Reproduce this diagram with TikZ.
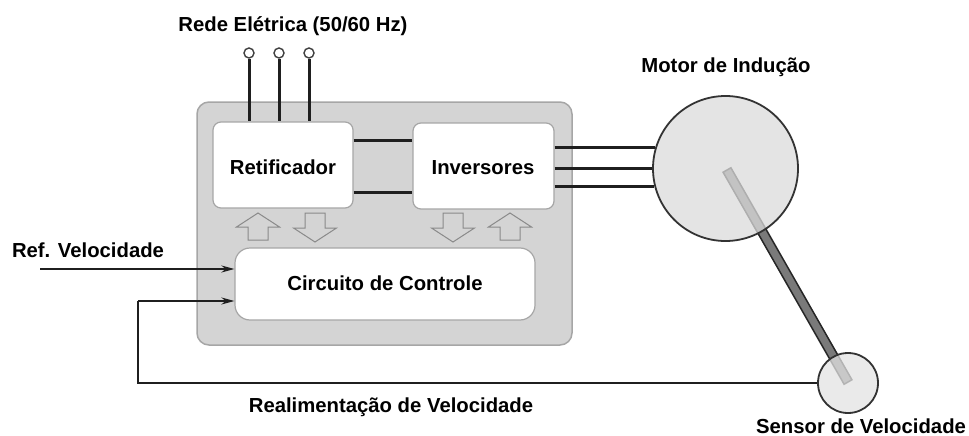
\documentclass[tikz,border=0pt]{standalone}
\usepackage{fontspec}
\setmainfont{Liberation Sans}
\usetikzlibrary{arrows.meta,calc}
\definecolor{panel}{HTML}{D4D4D4}
\definecolor{panelborder}{HTML}{A6A6A6}
\definecolor{motorfill}{HTML}{DCDCDC}
\definecolor{shaftgray}{HTML}{7A7A7A}
\definecolor{hollowline}{HTML}{8A8A8A}
\tikzset{
  x=1pt, y=-1pt,
  lbl/.style={font=\fontsize{20.3}{24}\selectfont\bfseries, anchor=base, inner sep=0pt},
  whitebox/.style={draw=panelborder, line width=1.2pt, fill=white, rounded corners=8pt},
  busline/.style={line width=3pt, black!88},
  sigarrow/.style={line width=2pt, black!88, -{Stealth[length=13pt,width=7pt]}},
  sigline/.style={line width=2pt, black!88},
  hollow/.style={draw=hollowline, line width=1pt, fill=panel},
  uparr/.pic={\path[hollow] (-10,13) -- (-10,0) -- (-21.5,0) -- (0,-14) -- (21.5,0) -- (10,0) -- (10,13) -- cycle;},
  downarr/.pic={\path[hollow] (-10,-14) -- (-10,1) -- (-21.5,1) -- (0,15) -- (21.5,1) -- (10,1) -- (10,-14) -- cycle;},
}
\begin{document}
\begin{tikzpicture}
\useasboundingbox[fill=white] (0,0) rectangle (969,436);

% panel
\path[fill=panel, draw=panelborder, line width=1.5pt, rounded corners=12pt] (197,102) rectangle (572,345);
\node[whitebox, minimum width=140pt, minimum height=86pt] (ret) at (283,165) {};
\node[whitebox, minimum width=141pt, minimum height=86pt] (inv) at (483.5,166) {};
\node[whitebox, rounded corners=15pt, minimum width=300pt, minimum height=72pt] (ctrl) at (385,284) {};
\node[lbl] (retl) at (283,174) {Retificador};
\node[lbl] (invl) at (483,174) {Inversores};
\node[lbl] (ctrll) at (385,290) {Circuito de Controle};

% DC bus
\draw[busline] (ret.east |- 0,140) -- (inv.west |- 0,140);
\draw[busline] (ret.east |- 0,192) -- (inv.west |- 0,192);

% mains terminals
\foreach \i/\xx in {1/249,2/279,3/309} {
  \node[circle, draw=black!75, line width=1.4pt, fill=white, minimum size=10pt, inner sep=0pt] (t\i) at (\xx,53) {};
  \draw[busline] (t\i.south) -- (t\i.south |- ret.north);
}
\node[lbl] (rede) at (293,32) {Rede Elétrica (50/60 Hz)};

% hollow arrows
\pic at (258,227) {uparr};
\pic at (315,227) {downarr};
\pic at (453,227) {downarr};
\pic at (510,227) {uparr};

% motor, shaft, sensor
\coordinate (sa) at (727,170);
\coordinate (sb) at (848,382);
\path[fill=shaftgray, draw=black!85, line width=1.5pt]
  ($(sa)!4.5pt!90:(sb)$) -- ($(sb)!4.5pt!-90:(sa)$) -- ($(sb)!4.5pt!90:(sa)$) -- ($(sa)!4.5pt!-90:(sb)$) -- cycle;
\node[circle, draw=black!80, line width=1.8pt, fill=motorfill, fill opacity=0.75, minimum size=145pt, inner sep=0pt] (motor) at (725.5,168.5) {};
\node[circle, draw=black!80, line width=1.8pt, fill=motorfill!80!white, fill opacity=0.75, minimum size=60pt, inner sep=0pt] (sensor) at (848,383) {};
\node[lbl] (motl) at (726,73) {Motor de Indução};
\node[lbl] (senl) at (861,433) {Sensor de Velocidade};

% three-phase output
\foreach \ang in {163.6,180,194.8} {
  \draw[busline] (motor.\ang -| inv.east) -- (motor.\ang);
}

% signals
\coordinate (refin) at (40,269);
\draw[sigarrow] (refin) -- (refin -| ctrl.west);
\node[lbl] (refl) at (88,257) {Ref. Velocidade};
\coordinate (fbc) at (138,301);
\draw[sigline] (sensor.west) -| (fbc);
\draw[sigarrow] (fbc) -- (fbc -| ctrl.west);
\node[lbl] (fbl) at (391,412) {Realimentação de Velocidade};
\end{tikzpicture}
\end{document}
